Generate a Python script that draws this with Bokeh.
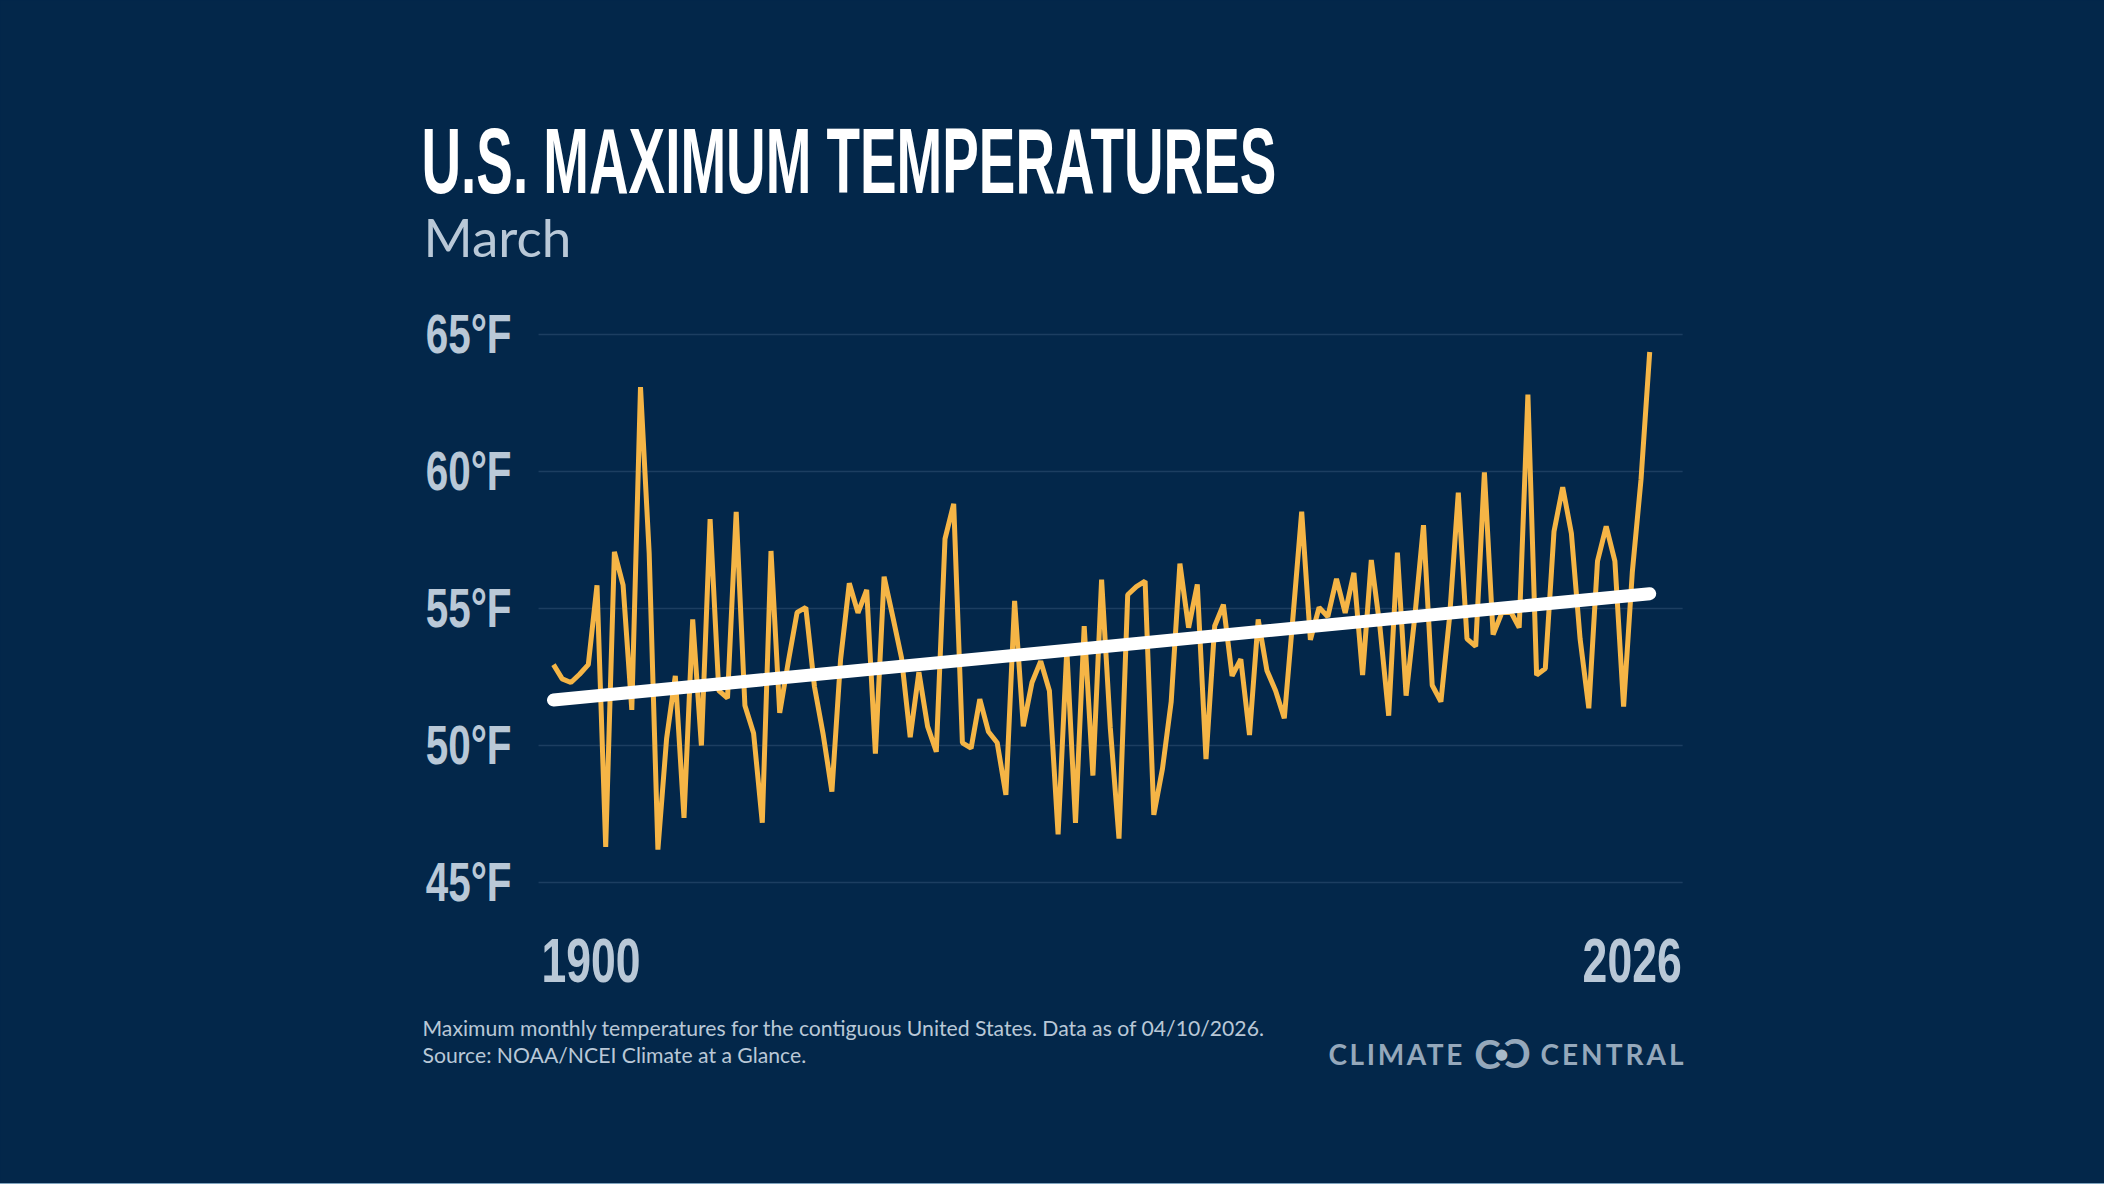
from math import pi
from bokeh.plotting import figure
from bokeh.models import Label, FixedTicker, Range1d
from bokeh.embed import file_html
from bokeh.resources import INLINE

years = list(range(1900, 2027))
max_temp = [
 52.95,52.43,52.3,52.6,52.95,55.85,46.3,57.07,55.85,51.3,
 63.08,57.0,46.2,50.25,52.54,47.36,54.6,50.0,58.26,52.0,
 51.73,58.53,51.46,50.45,47.18,57.1,51.19,53.08,54.86,55.04,
 52.14,50.4,48.32,53.15,55.92,54.84,55.68,49.7,56.16,54.7,
 53.2,50.3,52.68,50.7,49.77,57.54,58.82,50.1,49.9,51.69,
 50.5,50.1,48.2,55.28,50.7,52.3,53.08,52.0,46.76,53.5,
 47.18,54.36,48.9,56.05,50.65,46.6,55.5,55.8,56.0,47.47,
 49.16,51.6,56.64,54.3,55.88,49.5,54.36,55.14,52.54,53.15,
 50.38,54.6,52.74,52.0,50.99,54.7,58.53,53.86,55.04,54.7,
 56.08,54.84,56.3,52.57,56.77,54.3,51.09,57.04,51.82,54.7,
 58.04,52.2,51.6,54.7,59.23,53.89,53.62,59.97,54.05,54.84,
 54.9,54.3,62.81,52.57,52.81,57.81,59.43,57.74,53.89,51.36,
 56.73,58.0,56.73,51.42,56.32,59.7,64.36]
trend_years = [1900, 2026]
trend_values = [51.66, 55.54]
y_ticks = [45, 50, 55, 60, 65]
y_tick_labels = {45: "45°F", 50: "50°F", 55: "55°F", 60: "60°F", 65: "65°F"}
x_end_labels = ["1900", "2026"]
title_text = "U.S. MAXIMUM TEMPERATURES"
subtitle_text = "March"
note_lines = ["Maximum monthly temperatures for the contiguous United States. Data as of 04/10/2026.",
              "Source: NOAA/NCEI Climate at a Glance."]
logo_words = ["CLIMATE", "CENTRAL"]

BG = "#03274A"
MUTED = "#B9C8D7"
LOGO = "#95A8BB"
YELLOW = "#F5B546"
SANS = "Liberation Sans"
W, H = 2104, 1183
X_SCALE, Y_SCALE = 8.7, 27.4     # px per year, px per degree
GRID_START, GRID_END = 1898.28, 2029.79

p = figure(width=W, height=H, output_backend="svg", toolbar_location=None,
           x_range=Range1d(1900 - 553 / X_SCALE, 1900 + (W - 553) / X_SCALE),
           y_range=Range1d(65 - (H - 334) / Y_SCALE, 65 + 334 / Y_SCALE),
           background_fill_color=BG, border_fill_color=BG, outline_line_color=None, min_border=0)
p.xaxis.visible = False
p.grid.visible = False
ya = p.yaxis[0]
ya.fixed_location = GRID_START
ya.ticker = FixedTicker(ticks=y_ticks)
ya.major_label_overrides = y_tick_labels
ya.axis_line_color = None
ya.major_tick_line_color = None
ya.minor_tick_line_color = None
ya.major_tick_in = 0
ya.major_tick_out = 0
ya.major_label_text_font = SANS
ya.major_label_text_font_style = "bold"
ya.major_label_text_font_size = "55px"
ya.major_label_text_color = MUTED
ya.major_label_standoff = 27

p.segment(x0=[GRID_START] * len(y_ticks), x1=[GRID_END] * len(y_ticks), y0=y_ticks, y1=y_ticks,
          line_color="#1C3E61", line_width=1.5)
p.line(years, max_temp, line_color=YELLOW, line_width=5)
p.line(trend_years, trend_values, line_color="white", line_width=13, line_cap="round")

def page_label(text, px, py, **kw):
    kw.setdefault("text_baseline", "alphabetic")
    p.add_layout(Label(x=px, y=H - py, x_units="screen", y_units="screen", text=text, **kw))

# y values below are already corrected for Bokeh's placement of alphabetic-baseline labels
page_label(title_text, 421, 160, text_font=SANS, text_font_style="bold", text_font_size="92px", text_color="white")
page_label(subtitle_text, 423, 236, text_font="Lato", text_font_size="53px", text_color=MUTED)
page_label(note_lines[0], 422, 1027, text_font="Lato", text_font_size="21.2px", text_color=MUTED)
page_label(note_lines[1], 422, 1054, text_font="Lato", text_font_size="21.2px", text_color=MUTED)

logo_kw = dict(text_font="Lato", text_font_style="bold", text_color=LOGO)
page_label(logo_words[0], 1328, 1053, text_font_size="28px", **logo_kw)
page_label(logo_words[1], 1540, 1053, text_font_size="28px", **logo_kw)
page_label("C", 1487, 1053, text_font_size="40px", text_align="center", text_baseline="middle", **logo_kw)
page_label("C", 1517, 1053, text_font_size="40px", text_align="center", text_baseline="middle", angle=pi, **logo_kw)
page_label("●", 1501, 1053, text_font="DejaVu Sans", text_font_size="15px", text_color="#A9BAC9",
           text_align="center", text_baseline="middle")

x_kw = dict(y_units="screen", y=H - 960, text_baseline="alphabetic", text_font=SANS,
            text_font_style="bold", text_font_size="63px", text_color=MUTED)
p.add_layout(Label(x=int(x_end_labels[0]), x_units="data", x_offset=-12, text=x_end_labels[0], text_align="left", **x_kw))
p.add_layout(Label(x=int(x_end_labels[1]), x_units="data", x_offset=32, text=x_end_labels[1], text_align="right", **x_kw))

# The reference's display face is a condensed one that is not installed: the real SVG texts are
# condensed horizontally around one edge once Bokeh has drawn them.
script = """<script>
(function(){
  var rules = {"U.S. MAXIMUM TEMPERATURES":[0.596,0,0],
    "1900":[0.707,0,0],"2026":[0.707,1,0],
    "65°F":[0.735,1,0],"60°F":[0.735,1,0],"55°F":[0.735,1,0],"50°F":[0.735,1,0],"45°F":[0.735,1,0],
    "CLIMATE":[1,0,2.6],"CENTRAL":[1,0,3.0]};
  function walk(root){
    root.querySelectorAll("*").forEach(function(e){
      if(e.shadowRoot) walk(e.shadowRoot);
      if(e.tagName==="text" && rules[e.textContent] && !e.__done){
        e.__done=true;
        var r=rules[e.textContent];
        if(r[2]) e.style.letterSpacing=r[2]+"px";
        if(r[0]!==1){
          var b=e.getBBox(), px=b.x+r[1]*b.width, m=e.getAttribute("transform")||"";
          e.setAttribute("transform", m+" translate("+px+" 0) scale("+r[0]+" 1) translate("+(-px)+" 0)");
        }
      }
    });
  }
  walk(document);
  var n=0, t=setInterval(function(){walk(document); if(++n>100) clearInterval(t);},50);
})();
</script>"""

html = file_html(p, INLINE)
html = html.replace("</head>", "<style>html{background:#7FA3BD;} body{background:" + BG + ";height:" + str(H) + "px !important;}</style></head>", 1)
html = html.replace("</body>", script + "</body>", 1)
open("out.html", "w").write(html)
